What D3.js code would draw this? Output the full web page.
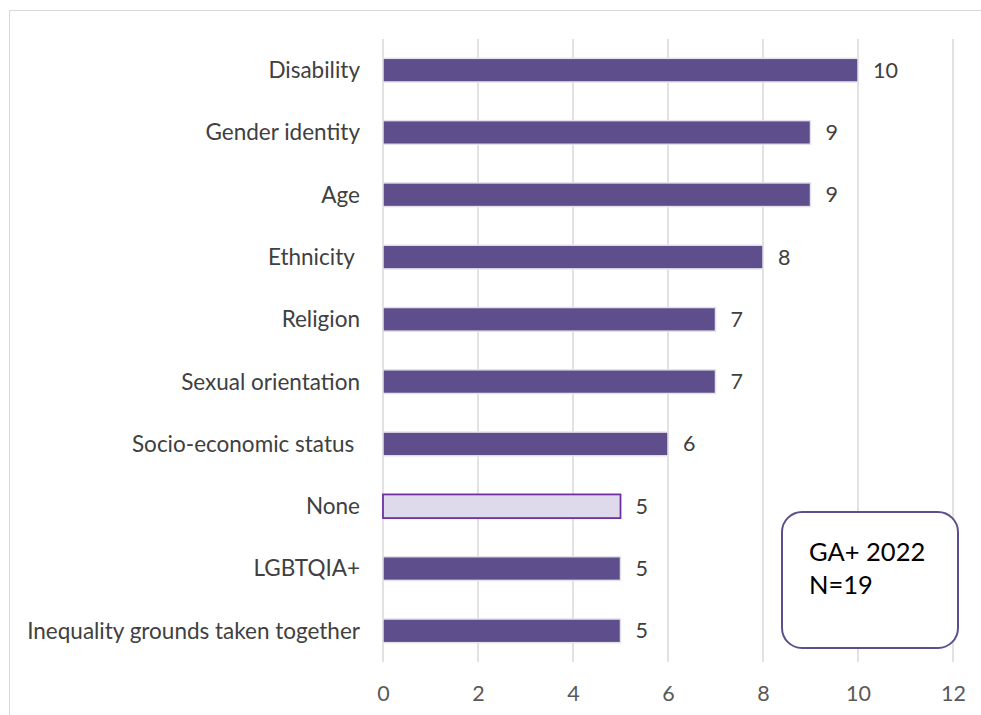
<!DOCTYPE html>
<html>
<head>
<meta charset="utf-8">
<script src="https://cdn.jsdelivr.net/npm/d3@7"></script>
<style>
  body { margin: 0; background: #fff; }
  svg { display: block; }
  text { font-family: Lato, "Open Sans", sans-serif; white-space: pre; }
</style>
</head>
<body>
<svg id="chart" width="981" height="715"></svg>
<script>
// Grounds of inequality reported (count of respondents)
const categories = [
  "Disability",
  "Gender identity",
  "Age",
  "Ethnicity ",
  "Religion",
  "Sexual orientation",
  "Socio-economic status ",
  "None",
  "LGBTQIA+",
  "Inequality grounds taken together"
];
const values = [10, 9, 9, 8, 7, 7, 6, 5, 5, 5];
const highlighted = ["None"];
const xTicks = [0, 2, 4, 6, 8, 10, 12];
const noteLines = ["GA+ 2022", "N=19"];

const FONT = "Lato, 'Open Sans', sans-serif";
const svg = d3.select("#chart");

// outer chart frame
svg.append("rect")
  .attr("x", 9.5).attr("y", 10.5)
  .attr("width", 990).attr("height", 720)
  .attr("fill", "none").attr("stroke", "#d9d9d9").attr("stroke-width", 1);

const plot = { left: 383, right: 953, top: 39, bottom: 662 };

const x = d3.scaleLinear().domain([0, 12]).range([plot.left, plot.right]);
const y = d3.scaleBand().domain(categories).range([plot.top, plot.bottom]).paddingInner(0.62).paddingOuter(0.31);

// vertical gridlines
svg.append("g").selectAll("line").data(xTicks).join("line")
  .attr("x1", d => x(d)).attr("x2", d => x(d))
  .attr("y1", plot.top).attr("y2", plot.bottom)
  .attr("stroke", "#d9d9d9").attr("stroke-width", 1.5);

// x axis tick labels
const xAxis = d3.axisBottom(x).tickValues(xTicks).tickSize(0).tickPadding(0);
const gx = svg.append("g").attr("transform", `translate(0,${plot.bottom})`).call(xAxis);
gx.select(".domain").remove();
gx.selectAll("text")
  .attr("dy", null).attr("y", 39)
  .attr("font-size", 21.5).attr("fill", "#595959")
  .style("font-family", FONT);

// category labels
const yAxis = d3.axisLeft(y).tickSize(0).tickPadding(0);
const gy = svg.append("g").attr("transform", `translate(360,0)`).call(yAxis);
gy.select(".domain").remove();
gy.selectAll("text")
  .attr("x", 0).attr("dy", "0.35em")
  .attr("font-size", 22.5).attr("fill", "#404040")
  .style("font-family", FONT);

const data = categories.map((c, i) => ({ cat: c, val: values[i] }));

// bars
svg.append("g").selectAll("rect").data(data).join("rect")
  .attr("x", x(0))
  .attr("y", d => y(d.cat))
  .attr("width", d => x(d.val) - x(0))
  .attr("height", y.bandwidth())
  .attr("fill", d => highlighted.includes(d.cat) ? "#dedaeb" : "#5e4f8c")
  .attr("stroke", d => highlighted.includes(d.cat) ? "#7030a0" : "#e3e1ea")
  .attr("stroke-width", d => highlighted.includes(d.cat) ? 1.8 : 1.5);

// value labels
svg.append("g").selectAll("text").data(data).join("text")
  .attr("x", d => x(d.val) + 15)
  .attr("y", d => y(d.cat) + y.bandwidth() / 2)
  .attr("dy", "0.35em")
  .attr("font-size", 21.5).attr("fill", "#404040")
  .text(d => d.val);

// annotation box
const note = svg.append("g");
note.append("rect")
  .attr("x", 782).attr("y", 512)
  .attr("width", 176).attr("height", 136)
  .attr("rx", 20).attr("ry", 20)
  .attr("fill", "#fff").attr("stroke", "#5e4f8c").attr("stroke-width", 2);
note.selectAll("text").data(noteLines).join("text")
  .attr("x", 809)
  .attr("y", (d, i) => 561 + i * 33)
  .attr("font-size", 25.5).attr("fill", "#000")
  .text(d => d);
</script>
</body>
</html>
